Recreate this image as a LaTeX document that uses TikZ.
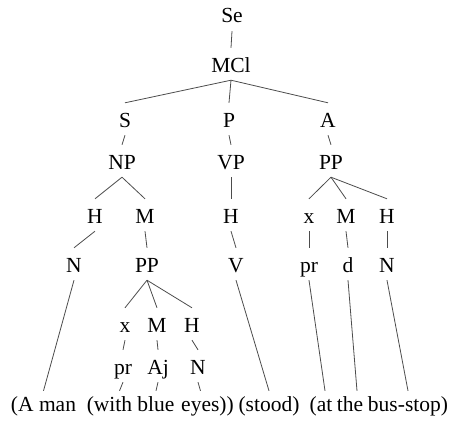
\documentclass[tikz,border=0pt]{standalone}
\usepackage{fontspec}
\setmainfont{Liberation Serif}
\usepackage{tikz}

\begin{document}
\begin{tikzpicture}[x=1pt, y=-1pt,
		lab/.style={anchor=base, inner sep=0pt, text height=24pt, text depth=8pt,
			font=\fontsize{21.5}{25}\selectfont},
		word/.style={lab, text height=20pt},
		branch/.style={line width=0.8pt, black!70}]

		\useasboundingbox (0,0) rectangle (451,423);

		% Sentence and clause
		\node[lab] (Se)  at (232,23) {Se};
		\node[lab] (MCl) at (231,72) {MCl};

		% Clause elements
		\node[lab] (S) at (125,127) {S};
		\node[lab] (P) at (229,127) {P};
		\node[lab] (A) at (328,127) {A};

		% Groups
		\node[lab] (NP) at (122,169) {NP};
		\node[lab] (VP) at (231,169) {VP};
		\node[lab] (PP) at (331,169) {PP};

		% Group elements
		\node[lab] (H1) at (95,223)  {H};
		\node[lab] (M1) at (145,223) {M};
		\node[lab] (H2) at (231,223) {H};
		\node[lab] (X2) at (309,223) {x};
		\node[lab] (M2) at (346,223) {M};
		\node[lab] (H3) at (387,223) {H};

		% Word classes
		\node[lab] (N1)  at (74,272)  {N};
		\node[lab] (PP2) at (147,272) {PP};
		\node[lab] (V)   at (236,272) {V};
		\node[lab] (pr2) at (309,272) {pr};
		\node[lab] (d)   at (348,272) {d};
		\node[lab] (N3)  at (387,272) {N};

		% Embedded group
		\node[lab] (X1) at (125,332) {x};
		\node[lab] (M3) at (157,332) {M};
		\node[lab] (H4) at (192,332) {H};
		\node[lab] (pr1) at (123,374) {pr};
		\node[lab] (Aj)  at (158,374) {Aj};
		\node[lab] (N4)  at (198,374) {N};

		% The words
		\node[word] (w1) at (43.5,411) {(A man};
		\node[word] (w2) at (109.5,411) {(with};
		\node[word] (w3) at (156,411)  {blue};
		\node[word] (w4) at (207.5,411) {eyes))};
		\node[word] (w5) at (269,411)  {(stood)};
		\node[word] (w6) at (321,411)  {(at};
		\node[word] (w7) at (350,411)  {the};
		\node[word] (w8) at (408,411)  {bus-stop)};

		% Draw the branches
		\draw[branch] (Se.south) -- (MCl.north);
		\draw[branch] (MCl.south) -- (S.north);
		\draw[branch] (MCl.south) -- (P.north);
		\draw[branch] (MCl.south) -- (A.north);
		\draw[branch] (S.south) -- (NP.north);
		\draw[branch] (P.south) -- (VP.north);
		\draw[branch] (A.south) -- (PP.north);
		\draw[branch] (NP.south) -- (H1.north);
		\draw[branch] (NP.south) -- (M1.north);
		\draw[branch] (VP.south) -- (H2.north);
		\draw[branch] (PP.south) -- (X2.north);
		\draw[branch] (PP.south) -- (M2.north);
		\draw[branch] (PP.south) -- (H3.north);
		\draw[branch] (H1.south) -- (N1.north);
		\draw[branch] (M1.south) -- (PP2.north);
		\draw[branch] (H2.south) -- (V.north);
		\draw[branch] (X2.south) -- (pr2.north);
		\draw[branch] (M2.south) -- (d.north);
		\draw[branch] (H3.south) -- (N3.north);
		\draw[branch] (PP2.south) -- (X1.north);
		\draw[branch] (PP2.south) -- (M3.north);
		\draw[branch] (PP2.south) -- (H4.north);
		\draw[branch] (X1.south) -- (pr1.north);
		\draw[branch] (M3.south) -- (Aj.north);
		\draw[branch] (H4.south) -- (N4.north);

		% Down to the words
		\draw[branch] (N1.south) -- (w1.north);
		\draw[branch] (pr1.south) -- ([xshift=10pt]w2.north);
		\draw[branch] (Aj.south) -- (w3.north);
		\draw[branch] (N4.south) -- ([xshift=-7pt]w4.north);
		\draw[branch] (V.south) -- (w5.north);
		\draw[branch] (pr2.south) -- ([xshift=4pt]w6.north);
		\draw[branch] (d.south) -- ([xshift=7pt]w7.north);
		\draw[branch] (N3.south) -- (w8.north);

	\end{tikzpicture}
\end{document}
